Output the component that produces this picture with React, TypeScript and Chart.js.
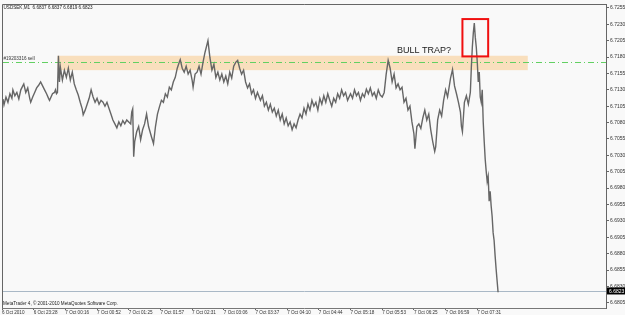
import { useEffect, useRef } from "react";
import { Chart, registerables } from "chart.js";

Chart.register(...registerables);

const TITLE = "USDSEK,M1  6.6837 6.6837 6.6819 6.6823";
const COPYRIGHT = "MetaTrader 4, © 2001-2010 MetaQuotes Software Corp.";

const TIME_LABELS = [
  "6 Oct 2010", "6 Oct 23:28", "7 Oct 00:16", "7 Oct 00:52", "7 Oct 01:25",
  "7 Oct 01:57", "7 Oct 02:31", "7 Oct 03:06", "7 Oct 03:37", "7 Oct 04:10",
  "7 Oct 04:44", "7 Oct 05:18", "7 Oct 05:53", "7 Oct 06:25", "7 Oct 06:59",
  "7 Oct 07:31",
];
const TIME_LABEL_BARS = [0, 32, 64, 96, 128, 160, 192, 224, 256, 288, 320, 352, 384, 416, 448, 480];

const PRICE_TICKS = [
  6.7255, 6.723, 6.7205, 6.718, 6.7155, 6.713, 6.7105, 6.708, 6.7055, 6.703,
  6.7005, 6.698, 6.6955, 6.693, 6.6905, 6.688, 6.6855, 6.683, 6.6805,
];

// bar index (one bar per minute, gaps skipped)
const BARS = [
  1, 2, 4, 6, 8, 10, 11, 13, 15, 17, 19, 21, 22, 24, 26, 28, 29, 31, 33, 35, 37, 39, 41, 43, 45, 47, 48, 51, 53, 54, 55,
  56, 57, 58, 59, 61, 63, 65, 67, 69, 71, 73, 75, 77, 79, 81, 82, 84, 86, 88, 90, 92, 94, 96, 98, 100, 102, 104, 106, 108,
  110, 112, 114, 116, 118, 120, 122, 124, 126, 128, 130, 131, 132, 133, 134, 136, 138, 140, 142, 144, 146, 148, 151, 153,
  155, 157, 159, 161, 163, 165, 167, 169, 171, 173, 175, 177, 179, 180, 182, 184, 186, 188, 190, 192, 193, 195, 197, 199, 201,
  203, 205, 207, 208, 210, 212, 214, 216, 218, 220, 222, 224, 226, 228, 230, 232, 234, 236, 238, 240, 242, 244, 246, 248,
  250, 252, 254, 256, 258, 261, 263, 265, 267, 269, 271, 273, 275, 277, 279, 281, 283, 285, 287, 289, 291, 293, 295, 297,
  299, 301, 303, 305, 307, 309, 311, 313, 315, 317, 319, 321, 323, 325, 327, 329, 331, 333, 335, 337, 339, 341, 343, 345,
  347, 349, 352, 354, 356, 358, 360, 362, 364, 366, 368, 370, 372, 374, 376, 378, 380, 382, 384, 386, 388, 390, 392, 394,
  396, 398, 400, 402, 404, 406, 408, 410, 412, 414, 416, 417, 419, 421, 423, 425, 427, 429, 431, 433, 435, 437, 438, 440,
  442, 444, 446, 448, 450, 453, 455, 457, 459, 461, 463, 464, 465, 467, 469, 471, 473, 474, 475, 476, 477, 478, 479, 480,
  481, 482, 483, 484, 485, 486, 487, 488, 489, 490, 491, 492, 493, 494, 495, 496, 497, 498, 499, 500, 501,
];

const PRICES = [
  6.7116, 6.7107, 6.7119, 6.7111, 6.7124, 6.7117, 6.713, 6.7121, 6.7126, 6.7116, 6.713, 6.7136, 6.7139, 6.7126, 6.7133,
  6.7117, 6.7111, 6.7119, 6.7126, 6.7133, 6.7137, 6.7142, 6.7136, 6.713, 6.7124, 6.7117, 6.7114, 6.7124, 6.7126, 6.713, 6.7124,
  6.7126, 6.7182, 6.7142, 6.7164, 6.7145, 6.716, 6.7149, 6.7163, 6.7145, 6.7157, 6.7139, 6.713, 6.7122, 6.7111, 6.7101,
  6.7092, 6.7099, 6.7108, 6.7117, 6.713, 6.7119, 6.7111, 6.7117, 6.7108, 6.7114, 6.7111, 6.7105, 6.7111, 6.7102,
  6.7093, 6.7084, 6.7078, 6.7072, 6.7081, 6.7075, 6.7083, 6.7078, 6.7084, 6.7081, 6.7078, 6.7096, 6.7101, 6.7028, 6.7051,
  6.7066, 6.7074, 6.7054, 6.7069, 6.7078, 6.7093, 6.7074, 6.7058, 6.7048,
  6.7074, 6.7093, 6.7104, 6.7114, 6.7111, 6.7124, 6.7119, 6.7134, 6.713, 6.7142, 6.7149, 6.7163, 6.7172, 6.7176, 6.7163,
  6.7157, 6.7166, 6.7154, 6.716, 6.7145, 6.7134, 6.7154, 6.7157, 6.7166, 6.7154,
  6.7172, 6.7187, 6.7199, 6.7205, 6.7179, 6.716, 6.7169, 6.7149, 6.7157, 6.7145, 6.7154, 6.7142, 6.7151, 6.7139, 6.7157,
  6.7148, 6.7166, 6.7172, 6.7175, 6.7163, 6.7154, 6.716, 6.7142, 6.7133,
  6.7139, 6.7124, 6.713, 6.7117, 6.7126, 6.7114, 6.7121, 6.7105, 6.7111, 6.7099, 6.7108, 6.7096, 6.7102, 6.709, 6.7099,
  6.7084, 6.7093, 6.7078, 6.7087, 6.7075, 6.7081, 6.7069, 6.7078, 6.7072,
  6.7084, 6.7093, 6.7087, 6.7102, 6.7093, 6.7108, 6.7099, 6.7114, 6.7105, 6.7111, 6.7099, 6.7117, 6.7108, 6.7121, 6.7111,
  6.7124, 6.7114, 6.7105, 6.7117, 6.7111, 6.7124, 6.7117, 6.713, 6.7121,
  6.7126, 6.7114, 6.7124, 6.7117, 6.713, 6.7121, 6.7126, 6.7114, 6.7124, 6.7119, 6.7131, 6.7124, 6.7133, 6.7121, 6.7126,
  6.7117, 6.713, 6.7122, 6.7119, 6.7126, 6.7154, 6.7175, 6.7163, 6.7142,
  6.7154, 6.7133, 6.7139, 6.713, 6.7134, 6.7111, 6.7117, 6.7099, 6.7105, 6.7081, 6.7063, 6.704, 6.7074, 6.7078, 6.7071,
  6.7087, 6.7099, 6.7084, 6.7093, 6.7069, 6.7051, 6.7036, 6.7043, 6.7084,
  6.7099, 6.709, 6.7114, 6.713, 6.7119, 6.7148, 6.7161, 6.7136, 6.7124, 6.7111, 6.7096, 6.7074, 6.7066, 6.7111, 6.7121,
  6.7108, 6.7126, 6.7164, 6.7195, 6.7217, 6.7232, 6.721, 6.7195, 6.7172,
  6.7142, 6.7157, 6.7119, 6.7111, 6.713, 6.7081, 6.7051, 6.7024, 6.7006, 6.699, 6.6998, 6.696, 6.6975, 6.6953, 6.6937,
  6.6912, 6.69, 6.6877, 6.6857, 6.6839, 6.6821,
];

const ZONE_BARS = [56, 531];
const ZONE_PRICES = [6.7182, 6.716];
const ORDER_PRICE = 6.7172;
const ORDER_LABEL = "#19203316 sell";
const TRAP_BOX_BARS = [465, 491];
const TRAP_BOX_PRICES = [6.7238, 6.7181];
const TRAP_TEXT = "BULL TRAP?";
const TRAP_TEXT_BAR = 399;
const TRAP_TEXT_PRICE = 6.719;
const LAST_PRICE = 6.6823;

const SMALL_FONT = "Liberation Sans, Arial, sans-serif";

const mt4Plugin = {
  id: "mt4Decor",
  beforeDraw(chart: any) {
    const { ctx, width, height } = chart;
    ctx.save();
    ctx.fillStyle = "#f9f9f9";
    ctx.fillRect(0, 0, width, height);
    ctx.restore();
  },
  beforeDatasetsDraw(chart: any) {
    const { ctx, chartArea } = chart;
    const xs = chart.scales.x;
    const ys = chart.scales.y;
    ctx.save();
    const zx0 = xs.getPixelForValue(ZONE_BARS[0]);
    const zx1 = xs.getPixelForValue(ZONE_BARS[1]);
    const zy0 = ys.getPixelForValue(ZONE_PRICES[0]);
    const zy1 = ys.getPixelForValue(ZONE_PRICES[1]);
    ctx.fillStyle = "#f9dfbd";
    ctx.fillRect(zx0, zy0, zx1 - zx0, zy1 - zy0);
    const oy = Math.round(ys.getPixelForValue(ORDER_PRICE)) + 0.5;
    ctx.strokeStyle = "#62d062";
    ctx.lineWidth = 1;
    ctx.setLineDash([6, 3, 1, 3]);
    ctx.beginPath();
    ctx.moveTo(chartArea.left + 1, oy);
    ctx.lineTo(chartArea.right, oy);
    ctx.stroke();
    ctx.setLineDash([]);
    const ly = Math.round(ys.getPixelForValue(LAST_PRICE)) + 0.5;
    ctx.strokeStyle = "#a9b8c6";
    ctx.beginPath();
    ctx.moveTo(chartArea.left + 1, ly);
    ctx.lineTo(chartArea.right, ly);
    ctx.stroke();
    ctx.fillStyle = "#333";
    ctx.font = `4.6px ${SMALL_FONT}`;
    ctx.textAlign = "left";
    ctx.textBaseline = "bottom";
    ctx.fillText(ORDER_LABEL, chartArea.left + 1.5, oy - 1);
    ctx.restore();
  },
  afterDatasetsDraw(chart: any) {
    const { ctx, chartArea } = chart;
    const xs = chart.scales.x;
    const ys = chart.scales.y;
    ctx.save();
    const bx0 = xs.getPixelForValue(TRAP_BOX_BARS[0]);
    const bx1 = xs.getPixelForValue(TRAP_BOX_BARS[1]);
    const by0 = ys.getPixelForValue(TRAP_BOX_PRICES[0]);
    const by1 = ys.getPixelForValue(TRAP_BOX_PRICES[1]);
    ctx.strokeStyle = "#f01010";
    ctx.lineWidth = 2;
    ctx.strokeRect(bx0, by0, bx1 - bx0, by1 - by0);
    ctx.fillStyle = "#1a1a1a";
    ctx.font = `9px ${SMALL_FONT}`;
    ctx.textAlign = "left";
    ctx.textBaseline = "middle";
    ctx.fillText(TRAP_TEXT, xs.getPixelForValue(TRAP_TEXT_BAR), ys.getPixelForValue(TRAP_TEXT_PRICE));
    ctx.fillStyle = "#222";
    ctx.font = `4.6px ${SMALL_FONT}`;
    ctx.fillText(TITLE, chartArea.left + 1.5, chartArea.top + 4);
    ctx.fillText(COPYRIGHT, chartArea.left + 1, chartArea.bottom - 4.5);
    ctx.strokeStyle = "#666";
    ctx.lineWidth = 1;
    ctx.beginPath();
    ctx.moveTo(chartArea.left + 0.5, chartArea.bottom);
    ctx.lineTo(chartArea.left + 0.5, chartArea.top + 0.5);
    ctx.lineTo(chartArea.right, chartArea.top + 0.5);
    ctx.stroke();
    ctx.restore();
  },
  afterDraw(chart: any) {
    const { ctx, chartArea } = chart;
    const ys = chart.scales.y;
    ctx.save();
    const py = ys.getPixelForValue(LAST_PRICE);
    ctx.fillStyle = "#000";
    ctx.fillRect(chartArea.right + 1, py - 3.5, 625 - chartArea.right - 1, 7);
    ctx.fillStyle = "#fff";
    ctx.font = `5px ${SMALL_FONT}`;
    ctx.textAlign = "left";
    ctx.textBaseline = "middle";
    ctx.fillText(LAST_PRICE.toFixed(4), chartArea.right + 3, py + 0.3);
    ctx.restore();
  },
};

export default function App() {
  const canvasRef = useRef<HTMLCanvasElement | null>(null);

  useEffect(() => {
    document.body.style.margin = "0";
    const canvas = canvasRef.current;
    if (!canvas) return;
    const chart = new Chart(canvas, {
      type: "line",
      data: {
        datasets: [
          {
            data: BARS.map((b, i) => ({ x: b, y: PRICES[i] })),
            borderColor: "#666666",
            borderWidth: 1.4,
            pointRadius: 0,
            tension: 0,
            fill: false,
          },
        ],
      },
      options: {
        animation: false,
        responsive: false,
        devicePixelRatio: 1,
        layout: { padding: { left: 2, top: 1, right: 0, bottom: 0 } },
        plugins: { legend: { display: false }, tooltip: { enabled: false } },
        scales: {
          x: {
            type: "linear",
            min: 0,
            max: 610,
            afterFit: (s: any) => {
              s.height = 7;
            },
            afterBuildTicks: (s: any) => {
              s.ticks = TIME_LABEL_BARS.map((v) => ({ value: v }));
            },
            ticks: {
              autoSkip: false,
              maxRotation: 0,
              minRotation: 0,
              align: "start",
              padding: 0,
              color: "#333",
              font: { size: 4.6, family: SMALL_FONT },
              callback: (_v: any, i: number) => TIME_LABELS[i],
            },
            grid: { drawOnChartArea: false, tickLength: 2, color: "#666" },
            border: { display: true, color: "#777" },
          },
          y: {
            type: "linear",
            position: "right",
            min: 6.6797,
            max: 6.7261,
            afterFit: (s: any) => {
              s.width = 19;
            },
            afterBuildTicks: (s: any) => {
              s.ticks = PRICE_TICKS.map((v) => ({ value: v }));
            },
            ticks: {
              autoSkip: false,
              padding: 1,
              color: "#333",
              font: { size: 5, family: SMALL_FONT },
              callback: (v: any) => Number(v).toFixed(4),
            },
            grid: { drawOnChartArea: false, tickLength: 3, color: "#666" },
            border: { display: true, color: "#666" },
          },
        },
      },
      plugins: [mt4Plugin],
    });
    return () => chart.destroy();
  }, []);

  return (
    <div style={{ position: "absolute", left: 0, top: 0, width: 625, height: 315 }}>
      <canvas ref={canvasRef} width={625} height={315} style={{ display: "block" }} />
    </div>
  );
}
